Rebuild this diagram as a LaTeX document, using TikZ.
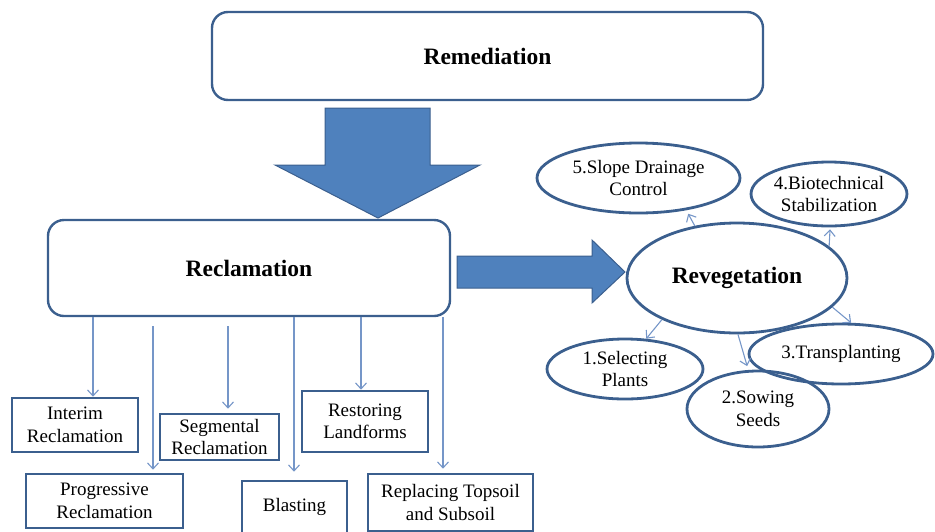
\documentclass[tikz,border=0pt]{standalone}
\usepackage{fontspec}
\setmainfont{Liberation Serif}
\usepackage{xcolor}
\usepackage{tikz}
\usetikzlibrary{shapes.geometric, arrows.meta}

\definecolor{boxblue}{HTML}{3B5F8E}
\definecolor{fillblue}{HTML}{4F81BD}
\definecolor{linkblue}{HTML}{7596C8}

\tikzset{
  mainbox/.style={draw=boxblue, line width=2.4pt, rounded corners=16pt, font=\bfseries\fontsize{23.5}{28}\selectfont},
  subbox/.style={draw=boxblue, line width=2.6pt, align=center, inner sep=0pt, font=\fontsize{19}{22.5}\selectfont},
  oval/.style={ellipse, draw=boxblue, line width=2.8pt, align=center, inner sep=0pt, font=\fontsize{19}{22.5}\selectfont},
  link/.style={draw=linkblue, line width=1.1pt, -{Straight Barb[length=6pt,width=11pt]}},
  fatarrow/.style={fill=fillblue, draw=boxblue, line width=1pt}
}

\begin{document}
\begin{tikzpicture}[x=1pt, y=-1pt]
            \useasboundingbox (0,0) rectangle (935,531);

            \node[mainbox, minimum width=551, minimum height=88] (Rem) at (487.5, 56) {Remediation};
            \node[mainbox, minimum width=402, minimum height=96] (Rec) at (249, 268) {Reclamation};
            \node[oval, minimum width=220, minimum height=110, font=\bfseries\fontsize{23.5}{28}\selectfont] (Rev) at (737, 278) {Revegetation};

            % big arrows
            \draw[fatarrow] (325,108) -- (430,108) -- (430,165) -- (480,165) -- (378,218) -- (275,165) -- (325,165) -- cycle;
            \draw[fatarrow] (457,256) -- (592,256) -- (592,240) -- (625,272) -- (592,303) -- (592,288) -- (457,288) -- cycle;

            % revegetation steps
            \node[oval, minimum width=203, minimum height=70] (S5) at (638.5, 178) {5.Slope Drainage\\Control};
            \node[oval, minimum width=154, minimum height=64] (S4) at (829, 194) {4.Biotechnical\\Stabilization};
            \node[oval, minimum width=184, minimum height=60] (S3) at (841, 354) {3.Transplanting};
            \node[oval, minimum width=142, minimum height=76] (S2) at (758, 409) {2.Sowing\\Seeds};
            \node[oval, minimum width=156, minimum height=60] (S1) at (625, 369) {1.Selecting\\Plants};

            \draw[link] (Rev.209) -- (S1.55);
            \draw[link, shorten >=4pt] (Rev.271) -- (S2.104);
            \draw[link] (Rev.343) -- (S3.72);
            \draw[link, shorten >=2pt] (Rev.19) -- (S4.272);
            \draw[link, shorten >=4pt] (Rev.129) -- (S5.326);

            % reclamation types
            \node[subbox, minimum width=126, minimum height=54] (B1) at (75, 425) {Interim\\Reclamation};
            \node[subbox, minimum width=157, minimum height=54] (B2) at (104.5, 501) {Progressive\\Reclamation};
            \node[subbox, minimum width=119, minimum height=46] (B3) at (219.5, 437) {Segmental\\Reclamation};
            \node[subbox, minimum width=105, minimum height=52] (B4) at (294.5, 507) {Blasting};
            \node[subbox, minimum width=126, minimum height=61] (B5) at (365, 421.5) {Restoring\\Landforms};
            \node[subbox, minimum width=165, minimum height=57] (B6) at (450.5, 502.5) {Replacing Topsoil\\and Subsoil};

            \draw[link] (Rec.south -| 93,0) -- (B1.north -| 93,0);
            \draw[link, shorten >=3pt] ([yshift=-9pt]Rec.south -| 153,0) -- (B2.north -| 153,0);
            \draw[link, shorten >=4pt] ([yshift=-9pt]Rec.south -| 228,0) -- (B3.north -| 228,0);
            \draw[link, shorten >=8pt] (Rec.south -| 294,0) -- (B4.north -| 294,0);
            \draw[link] (Rec.south -| 361,0) -- (B5.north -| 361,0);
            \draw[link, shorten >=4pt] (Rec.south -| 443,0) -- (B6.north -| 443,0);

        \end{tikzpicture}
\end{document}
